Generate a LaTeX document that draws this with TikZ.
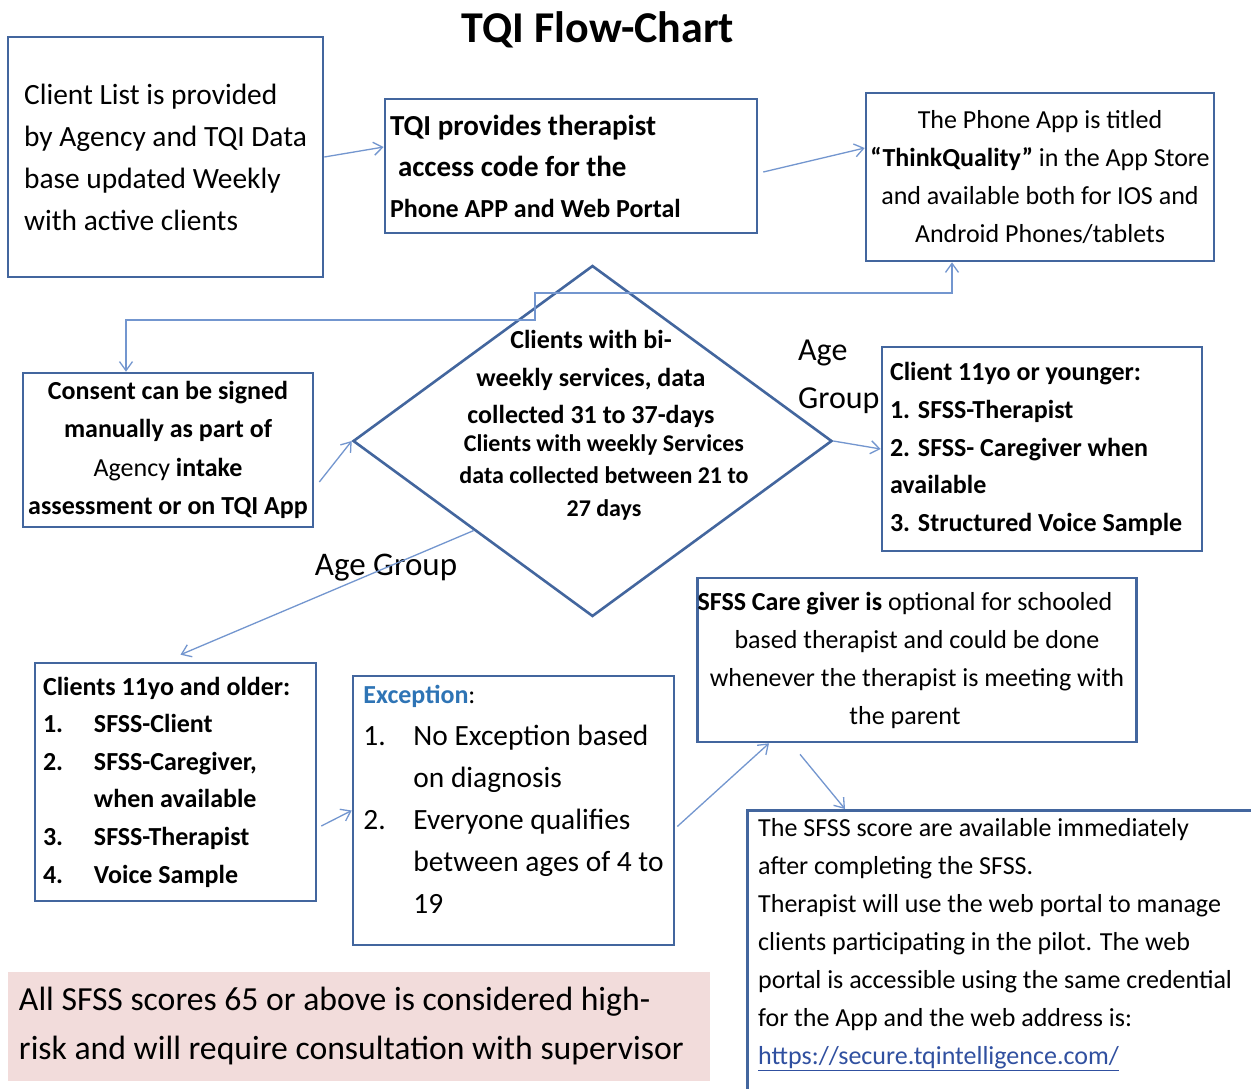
\documentclass[tikz,border=0pt]{standalone}
\usepackage{fontspec}
\setmainfont{Carlito}
\usetikzlibrary{arrows.meta,shapes.geometric}
\definecolor{boxblue}{HTML}{43669E}
\definecolor{linkblue}{HTML}{7396CF}
\definecolor{notepink}{HTML}{F2DCDB}
\definecolor{headblue}{HTML}{2E74B5}
\definecolor{urlblue}{HTML}{3050A0}
\tikzset{
  >={Straight Barb[length=9pt,width=13pt]},
  box/.style={draw=boxblue, line width=2.6pt, inner sep=0pt},
  link/.style={draw=linkblue, line width=1.3pt, ->},
}
\begin{document}
\begin{tikzpicture}[x=1pt,y=-1pt]
\clip (0,0) rectangle (1251,1088);
\fill[white] (0,0) rectangle (1251,1088);

\node[font=\fontsize{44}{50}\selectfont\bfseries] (title) at (598,30) {TQI Flow-Chart};

\node[box, minimum width=315pt, minimum height=240pt, align=left, font=\fontsize{29.4}{42}\selectfont] (list) at (165.5,157) {Client List is provided\\by Agency and TQI Data\\base updated Weekly\\with active clients};
\node[box, minimum width=372pt, minimum height=134pt, text width=362pt, inner xsep=5pt, align=flush left, font=\fontsize{29}{41}\selectfont\bfseries] (code) at (571,166) {TQI provides therapist\\\hspace*{8pt}access code for the\\{\fontsize{26}{41}\selectfont Phone APP and Web Portal}};
\node[box, minimum width=348pt, minimum height=168pt, align=center, font=\fontsize{26}{38}\selectfont] (app) at (1040,177) {The Phone App is titled\\\textbf{“ThinkQuality”} in the App Store\\and available both for IOS and\\Android Phones/tablets};
\node[box, minimum width=290pt, minimum height=154pt, align=center, font=\fontsize{26}{38.5}\selectfont\bfseries] (consent) at (168,450) {Consent can be signed\\manually as part of\\{\mdseries Agency} intake\\assessment or on TQI App};

% decision on service frequency
\node[box, diamond, minimum width=479pt, minimum height=351pt] (check) at (592.5,441) {};
\node[align=center, font=\fontsize{26}{37.5}\selectfont\bfseries] (biweekly) at (591,379) {Clients with bi-\\weekly services, data\\collected 31 to 37-days};
\node[align=center, font=\fontsize{24}{32.5}\selectfont\bfseries] (weekly) at (604,477) {Clients with weekly Services\\data collected between 21 to\\27 days};
\node[anchor=west, align=left, inner sep=0pt, font=\fontsize{32}{48}\selectfont] (agetop) at (798,377) {Age\\Group};
\node[inner sep=0pt, font=\fontsize{33}{40}\selectfont] (agelow) at (386,568) {Age Group};

\node[box, minimum width=320pt, minimum height=204pt, text width=304pt, inner xsep=8pt, align=flush left, font=\fontsize{26}{37.6}\selectfont\bfseries] (young) at (1042,449) {Client 11yo or younger:\\1. SFSS-Therapist\\2. SFSS- Caregiver when\\available\\3. Structured Voice Sample};
\node[box, minimum width=281pt, minimum height=238pt, text width=265pt, inner xsep=8pt, align=flush left, font=\fontsize{26}{37.6}\selectfont\bfseries] (old) at (175.5,782) {Clients 11yo and older:\\\makebox[51pt][l]{1.}SFSS-Client\\\makebox[51pt][l]{2.}SFSS-Caregiver,\\\hspace*{51pt}when available\\\makebox[51pt][l]{3.}SFSS-Therapist\\\makebox[51pt][l]{4.}Voice Sample};
\node[box, minimum width=321pt, minimum height=269pt, align=left, font=\fontsize{29.4}{42}\selectfont] (exc) at (513.5,810.5) {{\fontsize{26}{42}\selectfont\textcolor{headblue}{\textbf{Exception}}:}\\\makebox[50pt][l]{1.}No Exception based\\\hspace*{50pt}on diagnosis\\\makebox[50pt][l]{2.}Everyone qualifies\\\hspace*{50pt}between ages of 4 to\\\hspace*{50pt}19\\[-20pt]};
\node[box, minimum width=438pt, minimum height=164pt, align=center, font=\fontsize{26}{38}\selectfont] (care) at (917,660) {\textbf{SFSS Care giver is} optional for schooled\hspace*{24pt}\\based therapist and could be done\hspace*{24pt}\\whenever the therapist is meeting with\hspace*{24pt}\\the parent\hspace*{24pt}};
\node[box, anchor=north west, minimum width=560pt, minimum height=330pt] (score) at (746,809) {};
\node[anchor=north west, inner sep=0pt, text width=490pt, align=flush left, font=\fontsize{26}{38}\selectfont] (scoretxt) at (758,818) {The SFSS score are available immediately\\after completing the SFSS.\\Therapist will use the web portal to manage\\clients participating in the pilot. The web\\portal is accessible using the same credential\\for the App and the web address is:\\\textcolor{urlblue}{\underline{https://secure.tqintelligence.com/}}};
\node[fill=notepink, minimum width=702pt, minimum height=109pt, text width=680pt, inner xsep=11pt, inner ysep=4pt, align=flush left, font=\fontsize{33.7}{49}\selectfont] (note) at (359,1026.5) {All SFSS scores 65 or above is considered high-\\risk and will require consultation with supervisor};

% connectors
\coordinate (stepA) at (535,320);
\coordinate (stepB) at (535,293);
\draw[link] (list.east) -- ([yshift=19pt]code.west);
\draw[link] ([xshift=5pt,yshift=-6pt]code.east) -- ([yshift=29pt]app.west);
\draw[link, <->] ([xshift=-42pt]consent.north) |- (stepA) -- (stepB) -| ([xshift=-88pt]app.south);
\draw[link] ([xshift=5pt,yshift=-32pt]consent.east) -- (check.west);
\draw[link] (check.east) -- (young.west);
\draw[link] (check.217) -- ([xshift=5pt,yshift=7pt]old.north);
\draw[link] ([xshift=4pt,yshift=-44pt]old.east) -- (exc.west);
\draw[link] ([xshift=2pt,yshift=-16pt]exc.east) -- ([xshift=-148pt]care.south);
\draw[link] ([xshift=-117pt,yshift=-11pt]care.south) -- ([xshift=99pt]score.north west);
\end{tikzpicture}
\end{document}
